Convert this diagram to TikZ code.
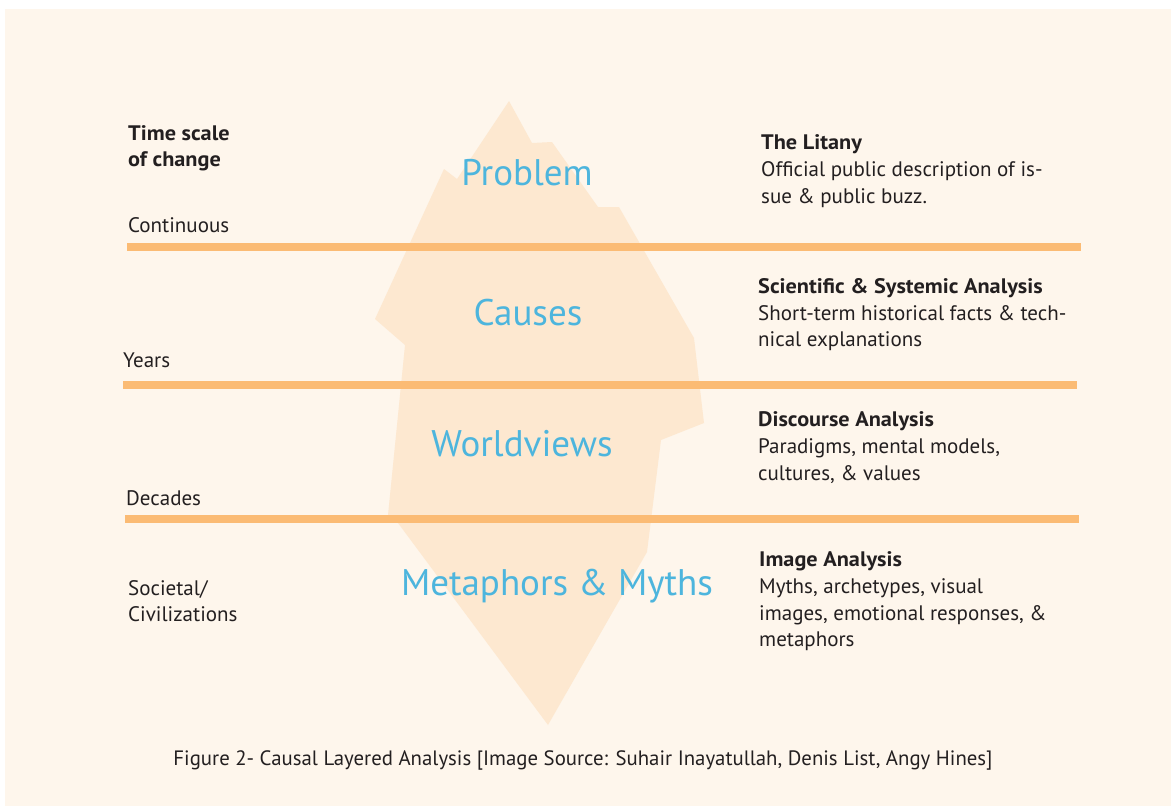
\documentclass[tikz,border=0pt]{standalone}
\usepackage{fontspec}
\setmainfont{PT Sans}[BoldFeatures={FakeStretch=1.06}]
\definecolor{bgcream}{HTML}{FEF6EC}
\definecolor{iceberg}{HTML}{FDE8D0}
\definecolor{lineorange}{HTML}{FBBB74}
\definecolor{layerblue}{HTML}{4DB5DD}
\definecolor{textdark}{HTML}{231F20}
\tikzset{
  waterline/.style={draw=lineorange, line width=8pt},
  % multi-line nodes sit on the baseline of their last line
  timelabel/.style={anchor=base west, inner sep=0pt, align=left, text=textdark,
    font=\fontsize{21}{26.7}\selectfont},
  analysis/.style={timelabel},
  layerlabel/.style={anchor=base, inner sep=0pt, text=layerblue,
    font=\fontsize{37}{40}\selectfont},
}
\begin{document}
\begin{tikzpicture}[x=1pt, y=-1pt]
    \useasboundingbox (0,0) rectangle (1171,806);
    % Background
    \fill[bgcream] (5,9) rectangle (1171,806);

    % Iceberg
    \fill[iceberg] (509,101) -- (532,143) -- (552,142) -- (598,207) -- (619,207)
        -- (694,338) -- (704,423) -- (661,440) -- (647,552) -- (548,725)
        -- (398,523) -- (388,515) -- (405,345) -- (375,319) -- (444,169)
        -- (457,179) -- cycle;

    % Level lines
    \draw[waterline] (127,247) -- (1081,247);
    \draw[waterline] (123,385) -- (1077,385);
    \draw[waterline] (125,519) -- (1079,519);

    % Layers
    \node[layerlabel] (problem) at (527,185) {Problem};
    \node[layerlabel] (causes) at (528,325) {Causes};
    \node[layerlabel] (worldviews) at (522,456) {Worldviews};
    \node[layerlabel] (myths) at (557,595) {Metaphors \& Myths};

    % Time scale
    \node[timelabel] (timescale) at (128,166.7) {\textbf{Time scale}\\\textbf{of change}};
    \node[timelabel] (continuous) at (128,232) {Continuous};
    \node[timelabel] (years) at (123,367) {Years};
    \node[timelabel] (decades) at (126,505) {Decades};
    \node[timelabel] (societal) at (128,621.7) {Societal/\\Civilizations};

    % Analysis
    \node[analysis] (litany) at (761,203.3) {\textbf{The Litany}\\Official public description of is-\\sue \& public buzz.};
    \node[analysis] (systemic) at (758,346.7) {\textbf{Scientific \& Systemic Analysis}\\Short-term historical facts \& tech-\\nical explanations};
    \node[analysis] (discourse) at (758,480) {\textbf{Discourse Analysis}\\Paradigms, mental models,\\cultures, \& values};
    \node[analysis] (image) at (759,646.7) {\textbf{Image Analysis}\\Myths, archetypes, visual\\images, emotional responses, \&\\metaphors};

    % Caption
    \node[anchor=base, inner sep=0pt, text=textdark, font=\fontsize{20.8}{24}\selectfont]
        (caption) at (583,765) {Figure 2- Causal Layered Analysis [Image Source: Suhair Inayatullah, Denis List, Angy Hines]};
\end{tikzpicture}
\end{document}
